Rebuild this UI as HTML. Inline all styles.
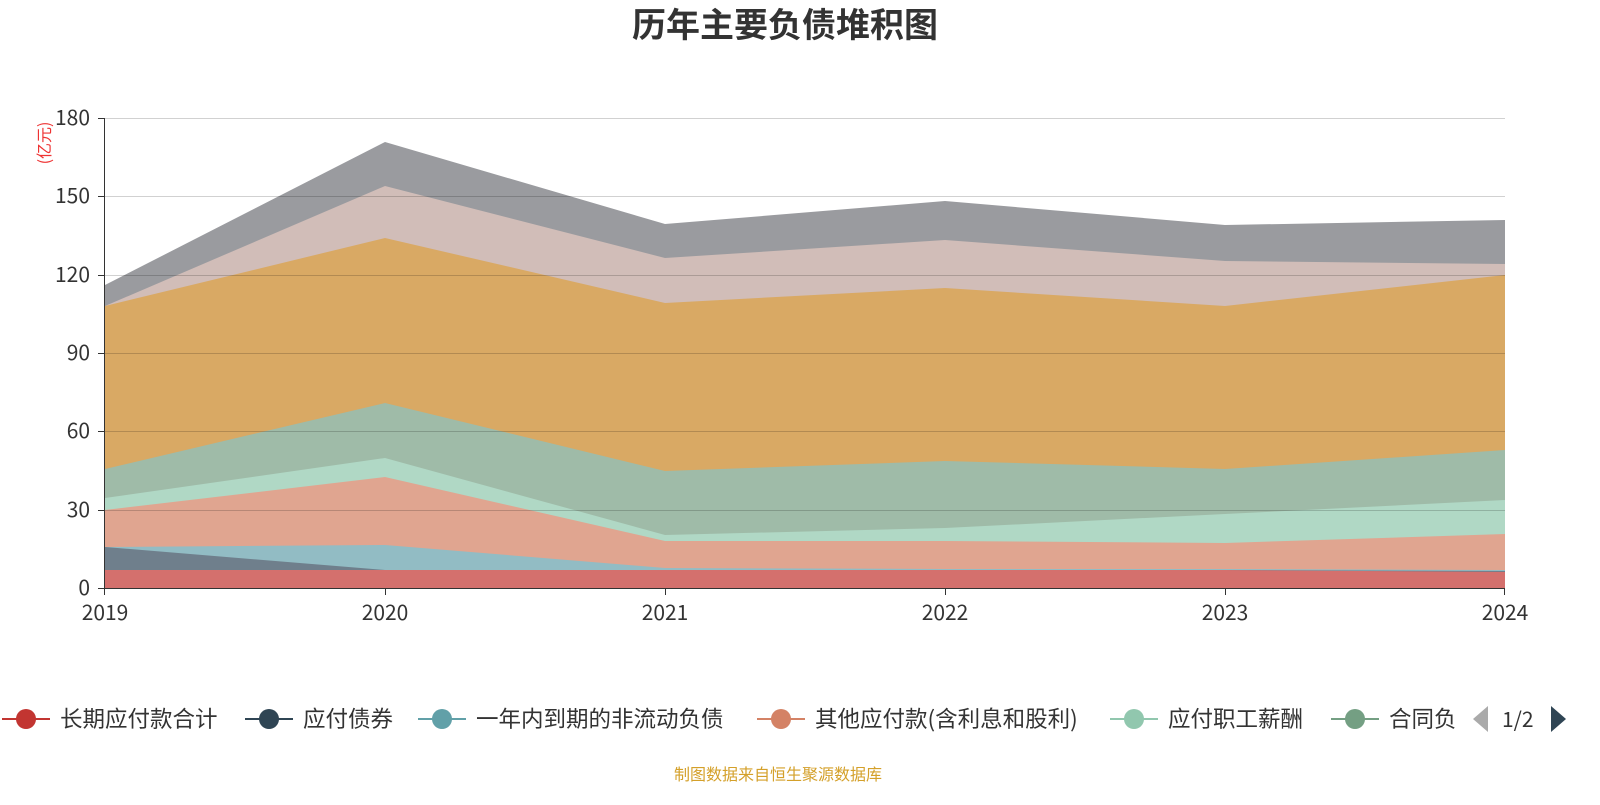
<!DOCTYPE html>
<html><head><meta charset="utf-8"><style>
body{margin:0;background:#fff;width:1600px;height:800px;overflow:hidden;font-family:"Noto Sans CJK SC",sans-serif}
</style></head><body>
<svg width="1600" height="800" xmlns="http://www.w3.org/2000/svg" font-family="Noto Sans CJK SC, sans-serif">
<text x="785" y="37" text-anchor="middle" font-size="34" font-weight="bold" fill="#333">历年主要负债堆积图</text>
<text x="50" y="143" font-size="16" fill="#e33" transform="rotate(-90 50 143)" text-anchor="middle">(亿元)</text>
<polygon fill="#9a9b9f" points="105,285 385,142 665,224 945,201 1225,225 1505,220 1505,588 105,588"/>
<polygon fill="#d1bdb8" points="105,306 385,186 665,258 945,240 1225,261 1505,264 1505,588 105,588"/>
<polygon fill="#d9a964" points="105,306 385,238 665,303 945,288 1225,306 1505,275 1505,588 105,588"/>
<polygon fill="#9fbba8" points="105,469 385,403 665,471 945,461 1225,469 1505,450 1505,588 105,588"/>
<polygon fill="#b0d8c5" points="105,498 385,458 665,535 945,528 1225,514 1505,500 1505,588 105,588"/>
<polygon fill="#e0a590" points="105,510 385,477 665,541 945,541 1225,543 1505,534 1505,588 105,588"/>
<polygon fill="#92bcc4" points="105,547 385,545 665,568 945,569 1225,569 1505,570 1505,588 105,588"/>
<polygon fill="#6f7f8c" points="105,547 385,570 665,570 945,570 1225,570 1505,571 1505,588 105,588"/>
<polygon fill="#d4706d" points="105,570 385,570 665,570 945,570 1225,570 1505,572 1505,588 105,588"/>
<g stroke="#000" stroke-opacity="0.18" stroke-width="1">
<line x1="105" y1="118.5" x2="1505" y2="118.5"/><line x1="105" y1="196.5" x2="1505" y2="196.5"/>
<line x1="105" y1="275.5" x2="1505" y2="275.5"/><line x1="105" y1="353.5" x2="1505" y2="353.5"/>
<line x1="105" y1="431.5" x2="1505" y2="431.5"/><line x1="105" y1="510.5" x2="1505" y2="510.5"/>
</g>
<line x1="105" y1="588.5" x2="1505" y2="588.5" stroke="#333"/>
<line x1="104.5" y1="118" x2="104.5" y2="588" stroke="#333"/>
<g stroke="#333"><line x1="98" y1="118.5" x2="105" y2="118.5"/><line x1="98" y1="196.5" x2="105" y2="196.5"/><line x1="98" y1="275.5" x2="105" y2="275.5"/><line x1="98" y1="353.5" x2="105" y2="353.5"/><line x1="98" y1="431.5" x2="105" y2="431.5"/><line x1="98" y1="510.5" x2="105" y2="510.5"/><line x1="98" y1="588.5" x2="105" y2="588.5"/>
<line x1="385.5" y1="588" x2="385.5" y2="595"/><line x1="665.5" y1="588" x2="665.5" y2="595"/><line x1="945.5" y1="588" x2="945.5" y2="595"/><line x1="1225.5" y1="588" x2="1225.5" y2="595"/><line x1="1504.5" y1="588" x2="1504.5" y2="595"/><line x1="104.5" y1="588" x2="104.5" y2="595"/></g>
<g font-size="21" fill="#333" text-anchor="end">
<text x="90" y="125">180</text><text x="90" y="203">150</text><text x="90" y="282">120</text><text x="90" y="360">90</text><text x="90" y="438">60</text><text x="90" y="517">30</text><text x="90" y="595">0</text></g>
<g font-size="21" fill="#333" text-anchor="middle">
<text x="105" y="620">2019</text><text x="385" y="620">2020</text><text x="665" y="620">2021</text><text x="945" y="620">2022</text><text x="1225" y="620">2023</text><text x="1505" y="620">2024</text></g>
<g font-size="22.5" fill="#333">
<line x1="2" y1="719" x2="50" y2="719" stroke="#c23531" stroke-width="2"/><circle cx="26" cy="719" r="10" fill="#c23531"/><text x="60" y="727">长期应付款合计</text>
<line x1="245" y1="719" x2="293" y2="719" stroke="#2f4554" stroke-width="2"/><circle cx="269" cy="719" r="10" fill="#2f4554"/><text x="303" y="727">应付债券</text>
<line x1="418" y1="719" x2="466" y2="719" stroke="#61a0a8" stroke-width="2"/><circle cx="442" cy="719" r="10" fill="#61a0a8"/><text x="476" y="727">一年内到期的非流动负债</text>
<line x1="757" y1="719" x2="805" y2="719" stroke="#d48265" stroke-width="2"/><circle cx="781" cy="719" r="10" fill="#d48265"/><text x="815" y="727">其他应付款(含利息和股利)</text>
<line x1="1110" y1="719" x2="1158" y2="719" stroke="#91c7ae" stroke-width="2"/><circle cx="1134" cy="719" r="10" fill="#91c7ae"/><text x="1168" y="727">应付职工薪酬</text>
<line x1="1331" y1="719" x2="1379" y2="719" stroke="#749f83" stroke-width="2"/><circle cx="1355" cy="719" r="10" fill="#749f83"/><text x="1389" y="727">合同负</text>
<rect x="1460" y="700" width="140" height="40" fill="#fff"/>
<polygon points="1488,706 1488,732 1473,719" fill="#aaa"/>
<text x="1502" y="727" font-size="21">1/2</text>
<polygon points="1551,706 1551,732 1566,719" fill="#2f4554"/>
</g>
<text x="778" y="780" text-anchor="middle" font-size="16" fill="#d4a02a">制图数据来自恒生聚源数据库</text>
</svg>
</body></html>
